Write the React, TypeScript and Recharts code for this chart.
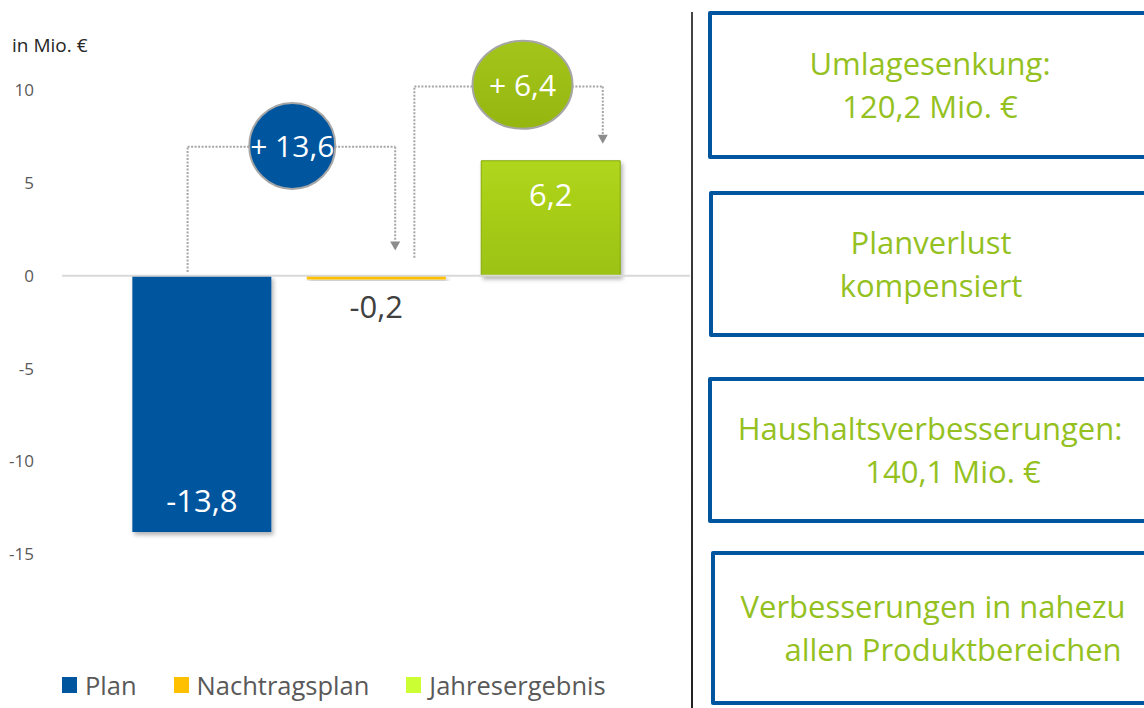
import React from "react";
import {
  BarChart,
  Bar,
  Cell,
  XAxis,
  YAxis,
  Legend,
  ReferenceLine,
  ReferenceDot,
  LabelList,
} from "recharts";

// --- data ---
const categories = ["Plan", "Nachtragsplan", "Jahresergebnis"];
const values = [-13.8, -0.2, 6.2];
const legendColors = ["#00559F", "#FFC000", "#CCFF33"];
const yTicks = [10, 5, 0, -5, -10, -15];
const changeLabels = ["+ 13,6", "+ 6,4"];
const boxTitles = [
  ["Umlagesenkung:", "120,2 Mio. €"],
  ["Planverlust", "kompensiert"],
  ["Haushaltsverbesserungen:", "140,1 Mio. €"],
  ["Verbesserungen in nahezu", "allen Produktbereichen"],
];

const data = categories.map((name, i) => ({ name, pos: i + 1, value: values[i] }));

// annotation anchors, in chart data units (x = bar slot, y = Mio. €)
const connectors = [
  [[0.92, 0.2], [0.92, 6.95], [2.11, 6.95], [2.11, 1.85]],
  [[2.22, 0.97], [2.22, 10.2], [3.3, 10.2], [3.3, 7.6]],
];
const bubbles = [
  { x: 1.52, y: 7.0, label: changeLabels[0], rx: 43, ry: 43, fill: "#00559F" },
  { x: 2.84, y: 10.29, label: changeLabels[1], rx: 50, ry: 44, fill: "url(#greenBubble)" },
];

const FONT = "'Open Sans', 'Noto Sans', sans-serif";
const fmt = (v: number) => v.toFixed(1).replace(".", ",");

const barFills = ["#00559F", "#FFC000", "url(#greenBar)"];

function BarValue(props: any) {
  const { x, y, width, height, value } = props;
  const top = Math.min(y, y + height);
  const bottom = Math.max(y, y + height);
  const cx = x + width / 2;
  let ty: number;
  let color = "#fff";
  if (Math.abs(value) < 1) {
    ty = bottom + 26;
    color = "#404040";
  } else if (value >= 0) {
    ty = top + 33;
  } else {
    ty = bottom - 32;
  }
  return (
    <text x={cx} y={ty} fill={color} fontSize={31} fontFamily={FONT} textAnchor="middle" dominantBaseline="central">
      {fmt(value)}
    </text>
  );
}

function Arrow(props: any) {
  const { cx, cy } = props;
  return <path d={`M${cx - 5},${cy} L${cx + 5},${cy} L${cx},${cy + 9} Z`} fill="#8C8C8C" />;
}

function makeBubble(b: (typeof bubbles)[number]) {
  return (props: any) => {
    const { cx, cy } = props;
    return (
      <g>
        <ellipse cx={cx} cy={cy} rx={b.rx} ry={b.ry} fill={b.fill} stroke="#A6A6A6" strokeWidth={2} />
        <text x={cx} y={cy} fill="#fff" fontSize={30} fontFamily={FONT} textAnchor="middle" dominantBaseline="central">
          {b.label}
        </text>
      </g>
    );
  };
}

function LegendContent() {
  return (
    <div style={{ height: 58, paddingTop: 17, paddingLeft: 62, boxSizing: "border-box", display: "flex", gap: 37, fontFamily: FONT, fontSize: 25.5, lineHeight: "30px", color: "#595959" }}>
      {categories.map((c, i) => (
        <div key={c} style={{ display: "flex", alignItems: "center" }}>
          <span style={{ width: 15, height: 16, background: legendColors[i], display: "inline-block", marginRight: 8 }} />
          {c}
        </div>
      ))}
    </div>
  );
}

const boxTops = [11, 191, 377, 551];
const boxHeights = [148, 146, 146, 154];
const boxLefts = [708, 709, 708, 711];
const secondLineShift = [0, 0, 46, 40];

export default function App() {
  return (
    <div style={{ position: "relative", width: 1144, height: 708, overflow: "hidden", background: "#fff", fontFamily: FONT }}>
      <style>{`body { margin: 0; }`}</style>
      <div style={{ position: "absolute", left: 12, top: 32, fontSize: 19, color: "#262626" }}>in Mio. €</div>
      <div style={{ position: "absolute", left: 0, top: 0 }}>
        <BarChart width={690} height={708} data={data} margin={{ top: 16, right: 0, bottom: 3, left: 0 }}>
          <defs>
            <linearGradient id="greenBar" x1="0" y1="0" x2="0" y2="1">
              <stop offset="0%" stopColor="#B0D61C" />
              <stop offset="100%" stopColor="#9CC212" />
            </linearGradient>
            <linearGradient id="greenBubble" x1="0" y1="0" x2="0" y2="1">
              <stop offset="0%" stopColor="#A3C51B" />
              <stop offset="100%" stopColor="#95B60F" />
            </linearGradient>
            <filter id="barShadow" x="-10%" y="-10%" width="130%" height="130%">
              <feDropShadow dx="2" dy="3" stdDeviation="2" floodColor="#000" floodOpacity="0.3" />
            </filter>
          </defs>
          <XAxis dataKey="pos" type="number" domain={[0.2, 3.8]} hide />
          <YAxis
            type="number"
            domain={[-20, 14]}
            ticks={yTicks}
            width={62}
            axisLine={false}
            tickLine={false}
            tickSize={0}
            tickMargin={28}
            tick={{ fontSize: 17, fill: "#595959", fontFamily: FONT }}
            interval={0}
          />
          <ReferenceLine y={0} stroke="#D9D9D9" strokeWidth={2} />
          <Bar dataKey="value" barSize={139} isAnimationActive={false} filter="url(#barShadow)">
            {data.map((d, i) => (
              <Cell key={d.name} fill={barFills[i]} stroke={i === 2 ? "#86A80C" : "none"} strokeWidth={1} />
            ))}
            <LabelList dataKey="value" content={BarValue} />
          </Bar>
          {connectors.flatMap((pts, ci) =>
            pts.slice(1).map((p, k) => (
              <ReferenceLine
                key={`c${ci}-${k}`}
                segment={[
                  { x: pts[k][0], y: pts[k][1] },
                  { x: p[0], y: p[1] },
                ]}
                stroke="#A6A6A6"
                strokeWidth={2}
                strokeDasharray="2 1.5"
              />
            ))
          )}
          {connectors.map((pts, ci) => (
            <ReferenceDot key={`a${ci}`} x={pts[3][0]} y={pts[3][1]} r={5} shape={Arrow} />
          ))}
          {bubbles.map((b, i) => (
            <ReferenceDot key={`b${i}`} x={b.x} y={b.y} r={b.rx} shape={makeBubble(b)} />
          ))}
          <Legend verticalAlign="bottom" align="left" content={LegendContent} />
        </BarChart>
      </div>
      <div style={{ position: "absolute", left: 691, top: 12, width: 2, height: 700, background: "linear-gradient(#444, #222)" }} />
      {boxTitles.map((lines, i) => (
        <div
          key={i}
          style={{
            position: "absolute",
            left: boxLefts[i],
            top: boxTops[i],
            width: 444,
            height: boxHeights[i],
            border: "4.5px solid #00559F",
            borderRadius: 2,
            boxSizing: "border-box",
            display: "flex",
            flexDirection: "column",
            justifyContent: "center",
            alignItems: "center",
            color: "#94C11F",
            fontSize: 31,
            lineHeight: "43px",
          }}
        >
          <div>{lines[0]}</div>
          <div style={{ paddingLeft: secondLineShift[i] }}>{lines[1]}</div>
        </div>
      ))}
    </div>
  );
}
